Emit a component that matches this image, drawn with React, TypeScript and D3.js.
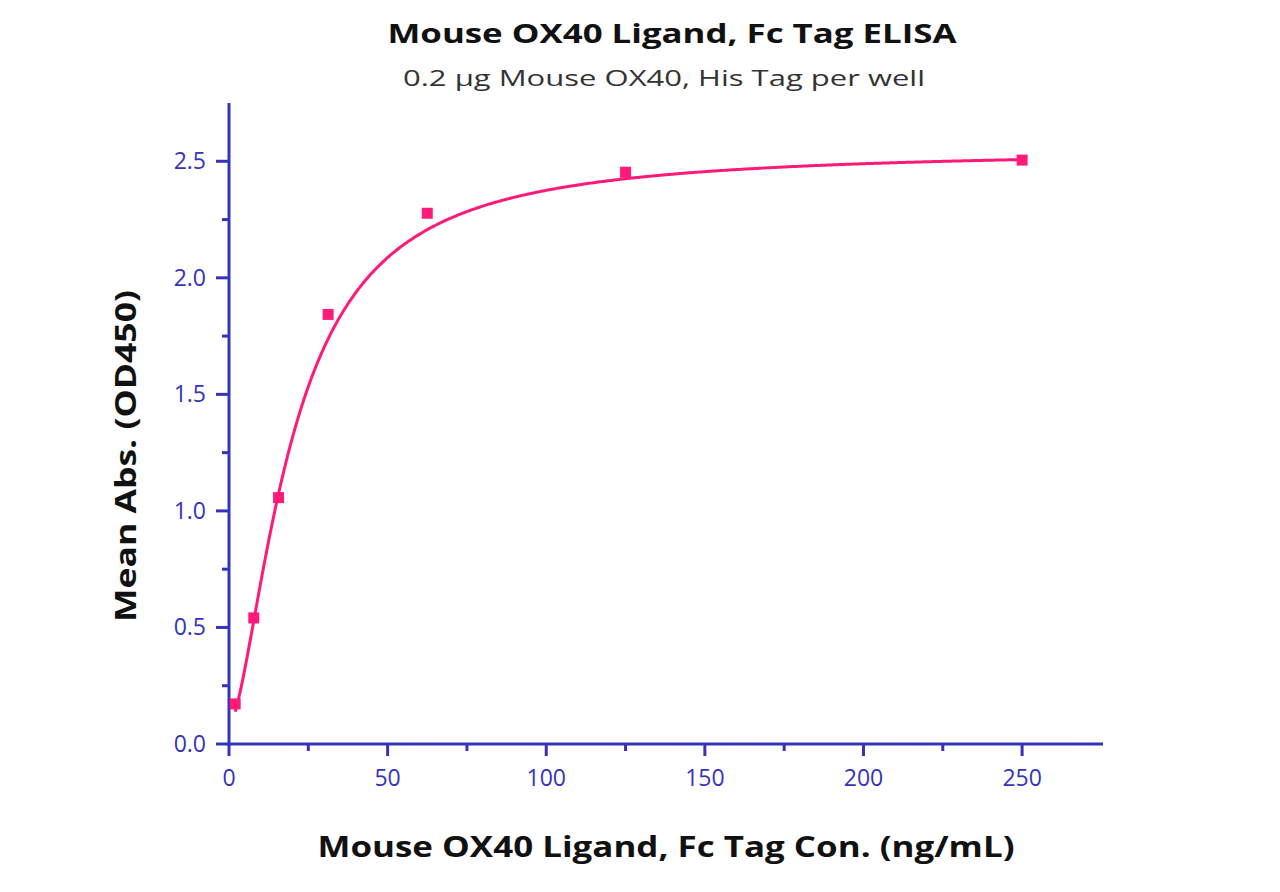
import React from "react";
import * as d3 from "d3";

const concentrations = [1.953, 7.8125, 15.625, 31.25, 62.5, 125, 250];
const meanAbs = [0.172, 0.541, 1.057, 1.843, 2.277, 2.453, 2.505];
const xTicks = [0, 50, 100, 150, 200, 250];
const xMinor = [25, 75, 125, 175, 225];
const yTicks = [0.0, 0.5, 1.0, 1.5, 2.0, 2.5];
const yMinor = [0.25, 0.75, 1.25, 1.75, 2.25];
// 4-parameter logistic fit parameters (bottom, top, EC50, hill)
const fitBottom = 0.08;
const fitTop = 2.55;
const fitEC50 = 20;
const fitHill = 1.6;

const title = "Mouse OX40 Ligand, Fc Tag ELISA";
const subtitle = "0.2 µg Mouse OX40, His Tag per well";
const xLabel = "Mouse OX40 Ligand, Fc Tag Con. (ng/mL)";
const yLabel = "Mean Abs. (OD450)";

const AXIS = "#3434bb";
const PINK = "#ff1a7a";
const FONT = "'Open Sans', 'Noto Sans', sans-serif";

export default function App() {
  const x = d3.scaleLinear().domain([0, 275.5]).range([229, 1103]);
  const y = d3.scaleLinear().domain([0, 2.75]).range([744, 103]);

  const fit = (c: number) => fitTop + (fitBottom - fitTop) / (1 + Math.pow(c / fitEC50, fitHill));
  const xs = d3.range(concentrations[0], 250.01, 0.5);
  const line = d3
    .line<number>()
    .x((c) => x(c))
    .y((c) => y(fit(c)))
    .curve(d3.curveLinear);

  const ms = 11;

  return (
    <svg
      width={1280}
      height={892}
      style={{ position: "absolute", left: 0, top: 0, background: "#fff" }}
    >
      <text x={672} y={43} textAnchor="middle" fontFamily={FONT} fontWeight="bold" fontSize={27} fill="#111" textLength={569} lengthAdjust="spacingAndGlyphs">
        {title}
      </text>
      <text x={664} y={86} textAnchor="middle" fontFamily={FONT} fontSize={22} fill="#333" textLength={522} lengthAdjust="spacingAndGlyphs">
        {subtitle}
      </text>

      {/* axes */}
      <line x1={x(0)} x2={x(0)} y1={y(2.75)} y2={y(0) + 1.5} stroke={AXIS} strokeWidth={3} />
      <line x1={x(0) - 1.5} x2={x(275.5)} y1={y(0)} y2={y(0)} stroke={AXIS} strokeWidth={3} />

      {xTicks.map((t) => (
        <g key={"xt" + t}>
          <line x1={x(t)} x2={x(t)} y1={y(0)} y2={y(0) + 12} stroke={AXIS} strokeWidth={3} />
          <text x={x(t)} y={y(0) + 42} textAnchor="middle" fontFamily={FONT} fontSize={23} fill={AXIS}>
            {t}
          </text>
        </g>
      ))}
      {xMinor.map((t) => (
        <line key={"xm" + t} x1={x(t)} x2={x(t)} y1={y(0)} y2={y(0) + 7} stroke={AXIS} strokeWidth={3} />
      ))}
      {yTicks.map((t) => (
        <g key={"yt" + t}>
          <line x1={x(0) - 13} x2={x(0)} y1={y(t)} y2={y(t)} stroke={AXIS} strokeWidth={3} />
          <text x={x(0) - 23} y={y(t) + 8} textAnchor="end" fontFamily={FONT} fontSize={23} fill={AXIS}>
            {t.toFixed(1)}
          </text>
        </g>
      ))}
      {yMinor.map((t) => (
        <line key={"ym" + t} x1={x(0) - 7} x2={x(0)} y1={y(t)} y2={y(t)} stroke={AXIS} strokeWidth={3} />
      ))}

      <path d={line(xs) || ""} fill="none" stroke={PINK} strokeWidth={3} />
      {concentrations.map((c, i) => (
        <rect key={"p" + i} x={x(c) - ms / 2} y={y(meanAbs[i]) - ms / 2} width={ms} height={ms} fill={PINK} />
      ))}

      <text x={666} y={857} textAnchor="middle" fontFamily={FONT} fontWeight="bold" fontSize={28} fill="#111" textLength={697} lengthAdjust="spacingAndGlyphs">
        {xLabel}
      </text>
      <text
        transform={`translate(136, 456) rotate(-90)`}
        textAnchor="middle"
        fontFamily={FONT}
        fontWeight="bold"
        fontSize={28}
        fill="#111"
        textLength={332}
        lengthAdjust="spacingAndGlyphs"
      >
        {yLabel}
      </text>
    </svg>
  );
}
